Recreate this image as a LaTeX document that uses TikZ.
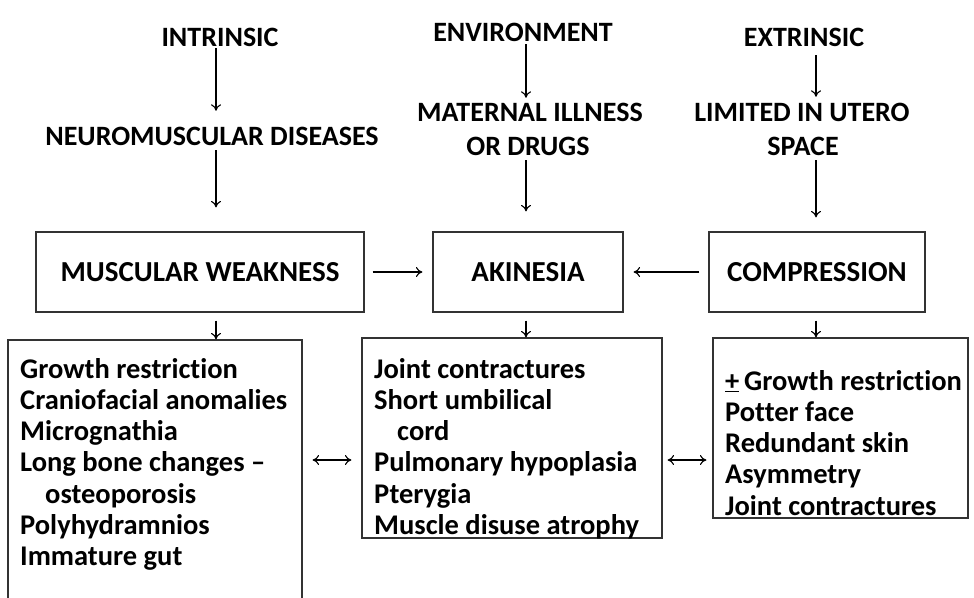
\documentclass[tikz,border=0pt]{standalone}
\usepackage{fontspec}
\setmainfont{Carlito}[Ligatures={TeX,NoCommon}]
\usetikzlibrary{arrows.meta}
\begin{document}
\begin{tikzpicture}[x=1pt,y=-1pt,
  toptxt/.style={font=\bfseries\fontsize{28}{34}\selectfont, text height=18pt, text depth=0pt, inner sep=2pt, anchor=base},
  boxn/.style={draw=black!80, line width=1.2pt, inner sep=0pt, font=\bfseries\fontsize{29}{34}\selectfont},
  item/.style={font=\bfseries\fontsize{28.5}{31.3}\selectfont, align=left, inner sep=0pt, anchor=base west},
  arr/.style={line width=1.1pt, -{To[length=6.5pt,width=10pt]}},
  dbl/.style={line width=1.1pt, {To[length=6.5pt,width=10pt]}-{To[length=6.5pt,width=10pt]}}
]
\clip (0,0) rectangle (974,597);
\fill[white] (0,0) rectangle (974,597);
% columns
\coordinate (colL) at (216,0);
\coordinate (colM) at (526,0);
\coordinate (colR) at (816,0);
\coordinate (dy) at (0,460);
% top texts
\node[toptxt] (intr) at (220,46) {INTRINSIC};
\node[toptxt] (env) at (523,41) {ENVIRONMENT};
\node[toptxt] (extr) at (804,46) {EXTRINSIC};
\node[toptxt] (neuro) at (212,145) {NEUROMUSCULAR DISEASES};
\node[toptxt] (mat) at (530,121) {MATERNAL ILLNESS};
\node[toptxt] (drugs) at (528,155) {OR DRUGS};
\node[toptxt] (lim) at (802,121) {LIMITED IN UTERO};
\node[toptxt] (space) at (803,155) {SPACE};
% boxes
\node[boxn, minimum width=328pt, minimum height=80pt] (mw) at (200,272) {MUSCULAR WEAKNESS};
\node[boxn, minimum width=190pt, minimum height=80pt] (ak) at (528,272) {AKINESIA};
\node[boxn, minimum width=216pt, minimum height=80pt] (comp) at (817,272) {COMPRESSION};
\node[boxn, minimum width=294pt, minimum height=280pt] (left) at (155,480) {};
\node[boxn, minimum width=300pt, minimum height=200pt] (mid) at (512,438) {};
\node[boxn, minimum width=255pt, minimum height=180pt] (right) at (840.5,428) {};
% box contents
\node[item] (lt) at (20,565.8) {Growth restriction\\Craniofacial anomalies\\Micrognathia\\Long bone changes –\\\hspace*{25pt}osteoporosis\\Polyhydramnios\\Immature gut};
\node[item] (mt) at (374,534.5) {Joint contractures\\Short umbilical\\\hspace*{23pt}cord\\Pulmonary hypoplasia\\Pterygia\\Muscle disuse atrophy};
\node[item] (rt) at (725,515.2) {\underline{+}\,Growth restriction\\Potter face\\Redundant skin\\Asymmetry\\Joint contractures};
% connectors
\draw[arr, shorten >=14pt] (colL |- intr.south) -- (colL |- neuro.north);
\draw[arr, shorten <=3pt, shorten >=24pt] (colL |- neuro.south) -- (colL |- mw.north);
\draw[arr, shorten <=1pt, shorten >=3pt] (colM |- env.south) -- (colM |- mat.north);
\draw[arr, shorten <=3pt, shorten >=20pt] (colM |- drugs.south) -- (colM |- ak.north);
\draw[arr, shorten <=7pt, shorten >=4pt] (colR |- extr.south) -- (colR |- lim.north);
\draw[arr, shorten <=3pt, shorten >=14pt] (colR |- space.south) -- (colR |- comp.north);
\draw[arr, shorten <=8pt, shorten >=10pt] (mw.east) -- (ak.west);
\draw[arr, shorten <=9pt, shorten >=10pt] (comp.west) -- (ak.east);
\draw[arr, shorten <=8pt] (colL |- mw.south) -- (colL |- left.north);
\draw[arr, shorten <=8pt] (colM |- ak.south) -- (colM |- mid.north);
\draw[arr, shorten <=8pt] (colR |- comp.south) -- (colR |- right.north);
\draw[dbl, shorten <=10pt, shorten >=10pt] (left.east |- dy) -- (mid.west |- dy);
\draw[dbl, shorten <=5pt, shorten >=6pt] (mid.east |- dy) -- (right.west |- dy);
\end{tikzpicture}
\end{document}
